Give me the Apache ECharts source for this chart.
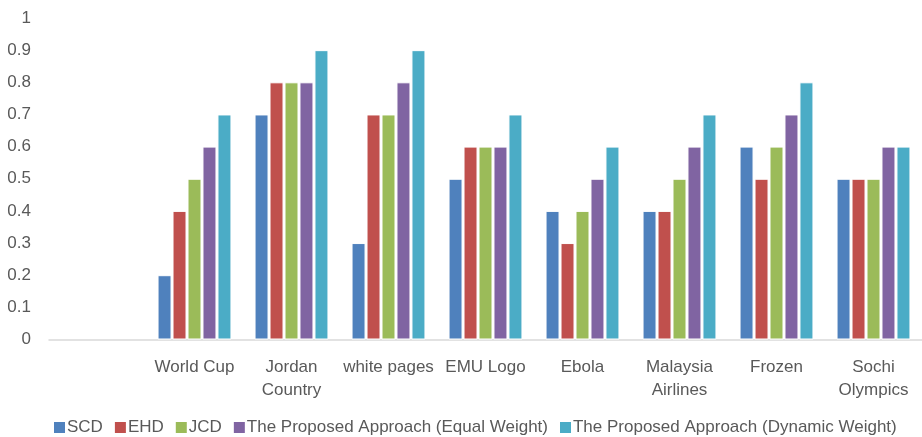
<!DOCTYPE html>
<html>
<head>
<meta charset="utf-8">
<script src="https://cdn.jsdelivr.net/npm/echarts@6/dist/echarts.min.js"></script>
<style>
  html, body { margin: 0; padding: 0; background: #fff; }
  #chart { width: 922px; height: 437px; }
</style>
</head>
<body>
<div id="chart"></div>
<script>
// Topic categories (the first slot is intentionally left blank)
const categories = ['', 'World Cup', 'Jordan\nCountry', 'white pages', 'EMU Logo', 'Ebola', 'Malaysia\nAirlines', 'Frozen', 'Sochi\nOlympics'];

const seriesNames = ['SCD', 'EHD', 'JCD', 'The Proposed Approach (Equal Weight)', 'The Proposed Approach (Dynamic Weight)'];

const scd        = [null, 0.2, 0.7, 0.3, 0.5, 0.4, 0.4, 0.6, 0.5];
const ehd        = [null, 0.4, 0.8, 0.7, 0.6, 0.3, 0.4, 0.5, 0.5];
const jcd        = [null, 0.5, 0.8, 0.7, 0.6, 0.4, 0.5, 0.6, 0.5];
const equalWt    = [null, 0.6, 0.8, 0.8, 0.6, 0.5, 0.6, 0.7, 0.6];
const dynamicWt  = [null, 0.7, 0.9, 0.9, 0.7, 0.6, 0.7, 0.8, 0.6];

const colors = ['#4F81BD', '#C0504D', '#9BBB59', '#8064A2', '#4BACC6'];
const FONT = '"Liberation Sans", Arial, sans-serif';
const TEXT = '#595959';

const seriesData = [scd, ehd, jcd, equalWt, dynamicWt];

const chart = echarts.init(document.getElementById('chart'));
chart.setOption({
  animation: false,
  color: colors,
  textStyle: { fontFamily: FONT },
  grid: { left: 49, right: -6, top: 18, bottom: 97.5, containLabel: false },
  legend: {
    left: 54,
    top: 419,
    padding: 0,
    itemWidth: 11,
    itemHeight: 11,
    itemGap: 12,
    icon: 'rect',
    itemStyle: { borderWidth: 0 },
    textStyle: { fontFamily: FONT, fontSize: 17, color: TEXT, padding: [0, 0, 0, -3] },
    data: seriesNames
  },
  xAxis: {
    type: 'category',
    data: categories,
    axisLine: { lineStyle: { color: '#D9D9D9', width: 1.5 } },
    axisTick: { show: false },
    axisLabel: { fontFamily: FONT, fontSize: 17, color: TEXT, margin: 16, lineHeight: 23, interval: 0 }
  },
  yAxis: {
    type: 'value',
    min: 0,
    max: 1,
    interval: 0.1,
    axisLine: { show: false },
    axisTick: { show: false },
    splitLine: { show: false },
    axisLabel: { fontFamily: FONT, fontSize: 17, color: TEXT, margin: 18 }
  },
  series: seriesNames.map((name, i) => ({
    name: name,
    type: 'bar',
    data: seriesData[i],
    barWidth: 14,
    barGap: '7%',
    itemStyle: { borderColor: '#ffffff', borderWidth: 1 }
  }))
});
</script>
</body>
</html>
